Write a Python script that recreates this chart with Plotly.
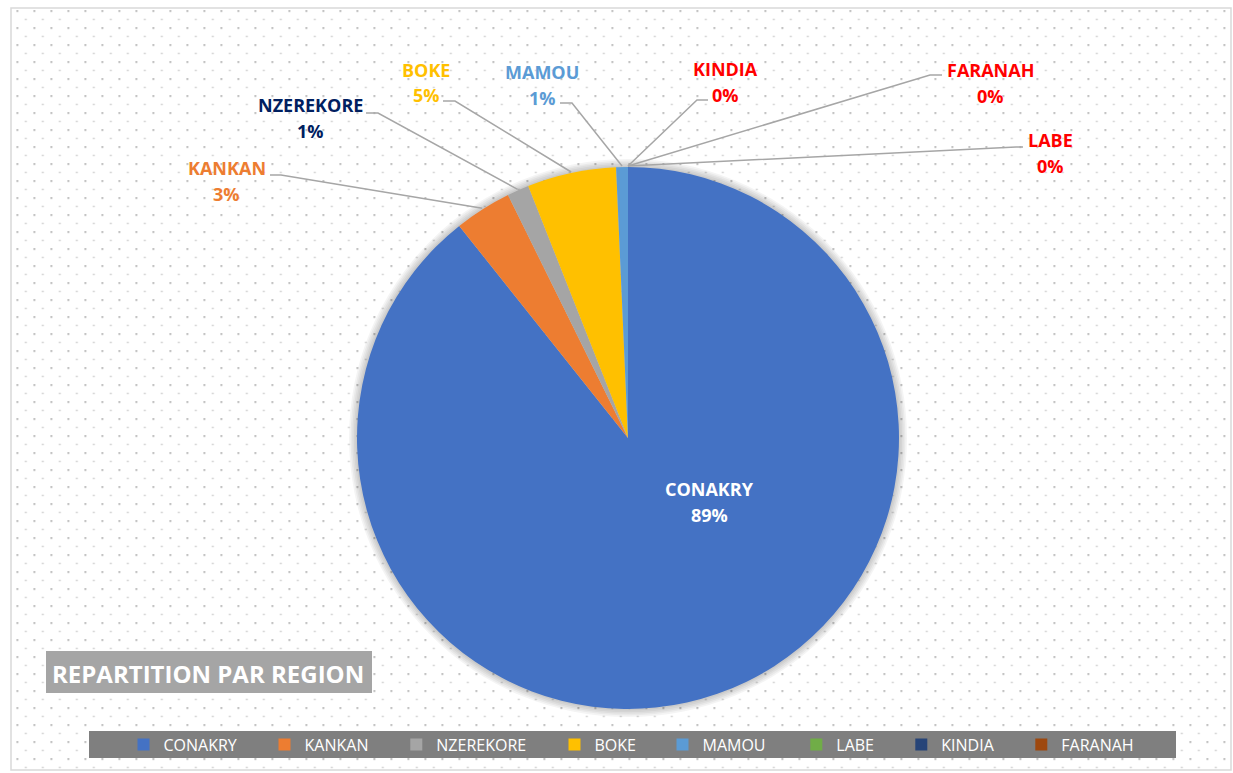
import base64
import math
import plotly.graph_objects as go

# ---------------- data ----------------
regions = ["CONAKRY", "KANKAN", "NZEREKORE", "BOKE", "MAMOU", "LABE", "KINDIA", "FARANAH"]
values = [89.3, 3.4, 1.3, 5.3, 0.7, 0.0, 0.0, 0.0]
slice_colors = ["#4472C4", "#ED7D31", "#A5A5A5", "#FFC000", "#5B9BD5", "#70AD47", "#264478", "#9E480E"]
label_colors = ["#FFFFFF", "#ED7D31", "#002060", "#FFC000", "#5B9BD5", "#FF0000", "#FF0000", "#FF0000"]
title_text = "REPARTITION PAR REGION"

# ---------------- layout geometry (pixels) ----------------
W, H = 1233, 773
CX, CY, R = 628, 438, 271


def X(px):
    return px / W


def Y(py):
    return 1 - py / H


# label text centres (name line, pct line) and elbow segment of leader line
label_pos = {
    "CONAKRY": ((709, 489), (709, 515), None),
    "KANKAN": ((227, 168), (227, 194), ((270, 175), (281, 175))),
    "NZEREKORE": ((310, 105), (310, 131), ((366, 113), (378, 113))),
    "BOKE": ((426, 70), (426, 95), ((443, 101), (455, 101))),
    "MAMOU": ((542, 72), (542, 98), ((560, 103), (572, 103))),
    "KINDIA": ((726, 69), (726, 95), ((708, 100), (697, 100))),
    "FARANAH": ((990, 70), (990, 96), ((942, 75), (930, 75))),
    "LABE": ((1050, 140), (1050, 166), ((1023, 147), (1016, 147))),
}
# legend symbol centres (x, pixels)
legend_x = [147.5, 288.5, 420.3, 578.5, 686.5, 820.3, 925.3, 1045.3]
LEGEND_Y = 744.5
SYMBOL_OFFSET = 24  # distance from legend box left edge to symbol centre

total = sum(values)
pcts = [round(v / total * 100) for v in values]

fig = go.Figure()
fig.add_trace(go.Pie(
    labels=regions,
    values=values,
    sort=False,
    direction="clockwise",
    rotation=0,
    marker=dict(colors=slice_colors, line=dict(width=0)),
    textinfo="none",
    hoverinfo="label+percent",
    domain=dict(x=[X(CX - R), X(CX + R)], y=[Y(CY + R), Y(CY - R)]),
    showlegend=False,
))

# legend entries (one legend per entry so that spacing follows the reference)
legends = {}
for i, (name, col) in enumerate(zip(regions, slice_colors)):
    key = "legend" if i == 0 else f"legend{i + 1}"
    fig.add_trace(go.Scatter(
        x=[None], y=[None], mode="markers", name=name,
        marker=dict(symbol="square", size=12, color=col, line=dict(width=0)),
        legend=key, showlegend=True, hoverinfo="skip",
    ))
    legends[key] = dict(
        x=X(legend_x[i] - SYMBOL_OFFSET), y=Y(LEGEND_Y), xanchor="left", yanchor="middle",
        orientation="h", bgcolor="rgba(0,0,0,0)", borderwidth=0,
        font=dict(family="Open Sans", size=16, color="#FFFFFF"),
        itemclick=False, itemdoubleclick=False,
    )

shapes = []
annotations = []

# pie soft shadow
for k in range(1, 6):
    rr = R + 1.6 * k
    shapes.append(dict(type="circle", xref="paper", yref="paper",
                       x0=X(CX - rr), x1=X(CX + rr), y0=Y(CY + rr), y1=Y(CY - rr),
                       fillcolor="rgba(0,0,0,0.045)", line=dict(width=0), layer="below"))

# leader lines and labels
cum = 0.0
for name, v, p, col in zip(regions, values, pcts, label_colors):
    mid = (cum + v / 2) / total * 2 * math.pi
    cum += v
    (nx, ny), (px_, py_), elbow = label_pos[name]
    if elbow is not None:
        ex = CX + (R + 1) * math.sin(mid)
        ey = CY - (R + 1) * math.cos(mid)
        (ax1, ay1), (ax2, ay2) = elbow
        path = f"M {X(ax1)},{Y(ay1)} L {X(ax2)},{Y(ay2)} L {X(ex)},{Y(ey)}"
        shapes.append(dict(type="path", xref="paper", yref="paper", path=path,
                           line=dict(color="#A6A6A6", width=1.5), layer="above"))
    for (tx, ty), txt in (((nx, ny), name), ((px_, py_), f"{p}%")):
        annotations.append(dict(x=X(tx), y=Y(ty), xref="paper", yref="paper",
                                text=f"<b>{txt}</b>", showarrow=False,
                                xanchor="center", yanchor="middle",
                                font=dict(family="Open Sans", size=18, color=col)))

# outer chart border
shapes.append(dict(type="rect", xref="paper", yref="paper",
                   x0=X(11), x1=X(1231), y0=Y(770), y1=Y(8),
                   line=dict(color="#D9D9D9", width=1.5), fillcolor="rgba(0,0,0,0)", layer="below"))

# title box
shapes.append(dict(type="rect", xref="paper", yref="paper",
                   x0=X(46), x1=X(372), y0=Y(693), y1=Y(651),
                   fillcolor="#A5A5A5", line=dict(width=0), layer="above"))
annotations.append(dict(x=X(208), y=Y(673), xref="paper", yref="paper",
                        text=f"<b>{title_text}</b>", showarrow=False,
                        xanchor="center", yanchor="middle",
                        font=dict(family="Open Sans", size=24, color="#FFFFFF")))

# legend bar
shapes.append(dict(type="rect", xref="paper", yref="paper",
                   x0=X(89), x1=X(1176), y0=Y(758), y1=Y(731),
                   fillcolor="#7F7F7F", line=dict(width=0), layer="below"))

# dotted background pattern
svg = (
    f"<svg xmlns='http://www.w3.org/2000/svg' width='{W}' height='{H}' viewBox='0 0 {W} {H}'>"
    "<defs><pattern id='p' x='16.5' y='10.2' width='17' height='17' patternUnits='userSpaceOnUse'>"
    "<rect x='0' y='0' width='1.7' height='1.7' fill='#A6A6A6'/>"
    "<rect x='8.5' y='8.7' width='1.7' height='1.2' fill='#BDBDBD'/>"
    "</pattern></defs>"
    f"<rect x='12' y='9' width='1218' height='761' fill='url(#p)'/>"
    "</svg>"
)
img_src = "data:image/svg+xml;base64," + base64.b64encode(svg.encode()).decode()

fig.update_layout(
    width=W, height=H,
    margin=dict(l=0, r=0, t=0, b=0),
    paper_bgcolor="#FFFFFF",
    plot_bgcolor="rgba(0,0,0,0)",
    xaxis=dict(visible=False),
    yaxis=dict(visible=False),
    shapes=shapes,
    annotations=annotations,
    images=[dict(source=img_src, xref="paper", yref="paper", x=0, y=1,
                 sizex=1, sizey=1, xanchor="left", yanchor="top",
                 sizing="stretch", layer="below")],
    **legends,
)

fig.write_html("out.html", config={"displayModeBar": False},
               post_script="document.body.style.margin='0';document.body.style.overflow='hidden';")
